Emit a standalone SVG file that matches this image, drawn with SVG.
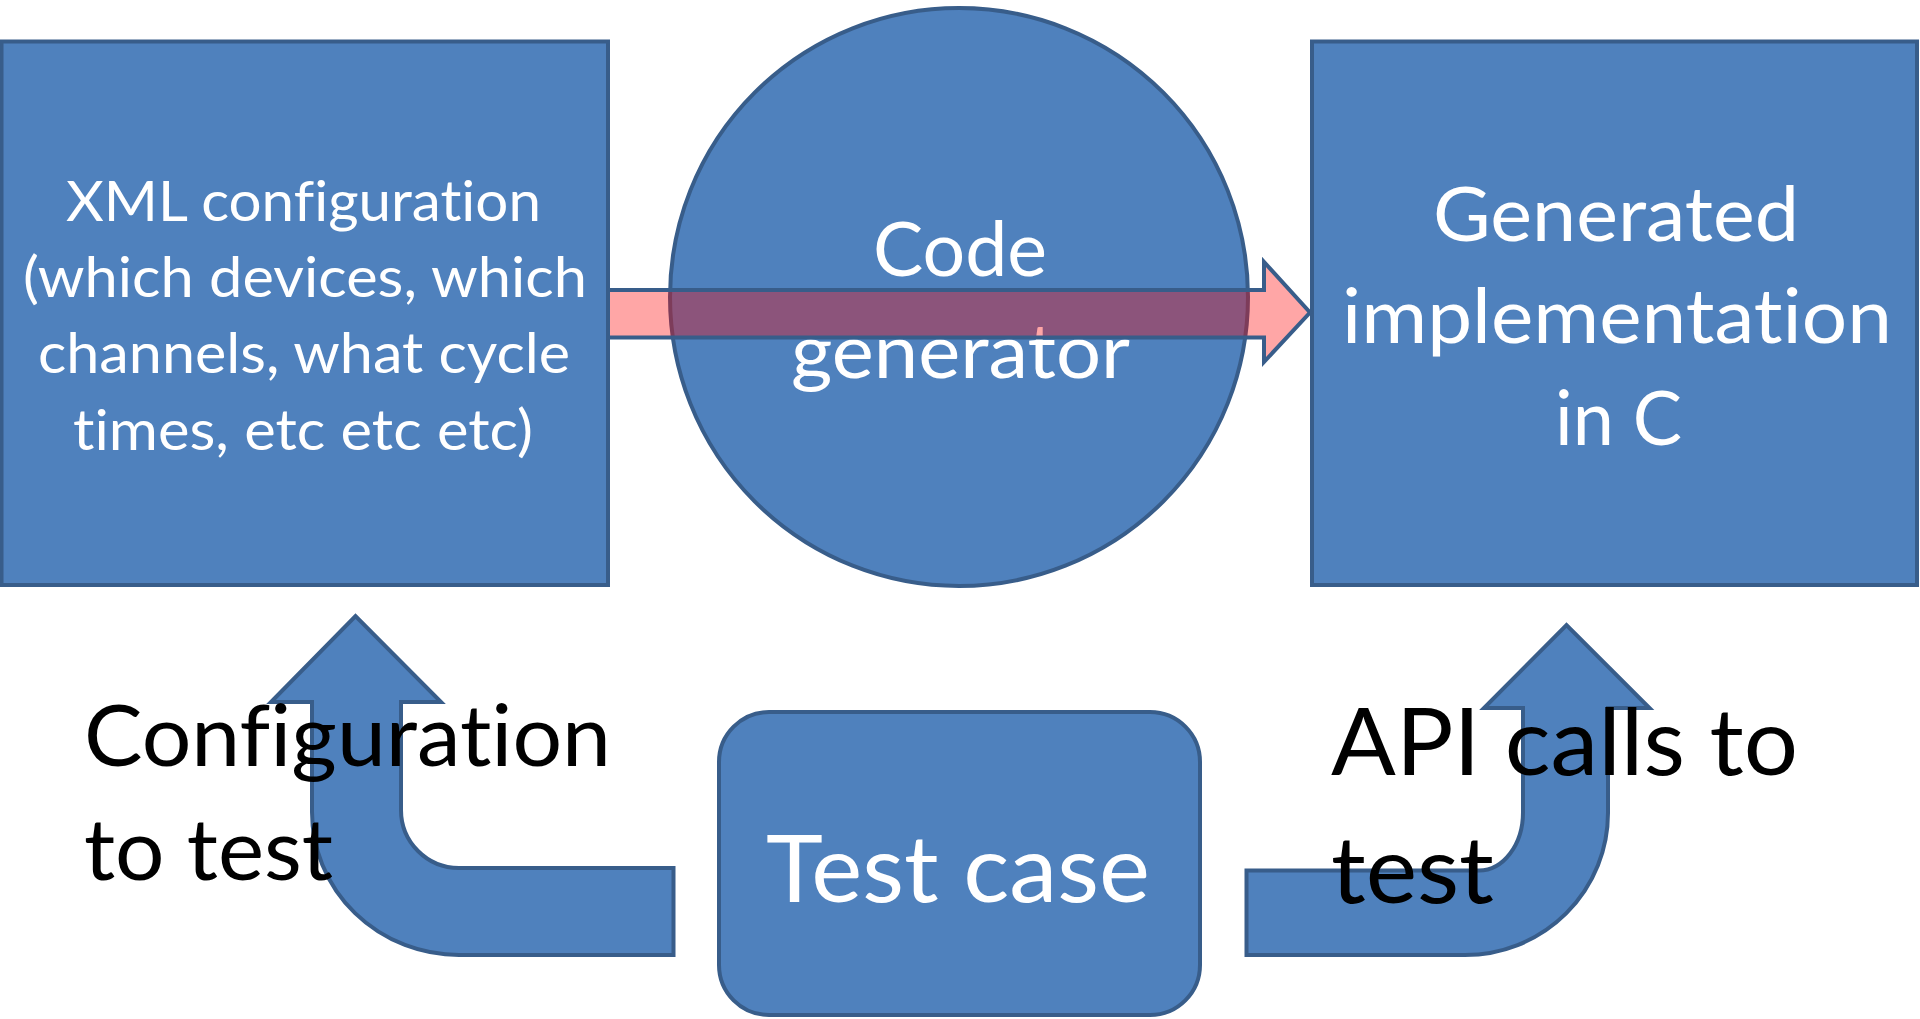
<svg xmlns="http://www.w3.org/2000/svg" width="1920" height="1019" viewBox="0 0 1920 1019">
<style>
.box{fill:#4F81BD;stroke:#385D8A;stroke-width:4;stroke-linejoin:miter}
.arr{fill:#4F81BD;stroke:#385D8A;stroke-width:4;stroke-linejoin:miter}
.flow{fill:#FF0000;fill-opacity:0.35;stroke:#385D8A;stroke-width:4;stroke-linejoin:miter}
.wt,.bk{font-family:Lato,"Open Sans","Liberation Sans",sans-serif;font-variant-ligatures:none;font-feature-settings:"liga" 0,"dlig" 0,"clig" 0}
.wt{fill:#FFFFFF}
.bk{fill:#000000}
</style>
<rect width="1920" height="1019" fill="#FFFFFF"/>
<g id="nodes">
  <g id="xml-config">
    <rect class="box" x="1.5" y="41.5" width="606.5" height="543.5"/>
    <text class="wt" font-size="57" x="66" y="221" textLength="475" lengthAdjust="spacingAndGlyphs">XML configuration</text>
    <text class="wt" font-size="57" x="23" y="297" textLength="564" lengthAdjust="spacingAndGlyphs">(which devices, which</text>
    <text class="wt" font-size="57" x="38" y="373" textLength="532" lengthAdjust="spacingAndGlyphs">channels, what cycle</text>
    <text class="wt" font-size="57" x="73" y="450" textLength="460" lengthAdjust="spacingAndGlyphs">times, etc etc etc)</text>
  </g>
  <g id="code-generator">
    <circle class="box" cx="959" cy="297" r="289"/>
    <text class="wt" font-size="76" x="873" y="276" textLength="174" lengthAdjust="spacingAndGlyphs">Code</text>
    <text class="wt" font-size="76" x="791" y="378" textLength="339" lengthAdjust="spacingAndGlyphs">generator</text>
  </g>
  <g id="generated-impl">
    <rect class="box" x="1312" y="41.5" width="605" height="543.5"/>
    <text class="wt" font-size="76" x="1433" y="240.5" textLength="366" lengthAdjust="spacingAndGlyphs">Generated</text>
    <text class="wt" font-size="76" x="1342" y="343" textLength="550" lengthAdjust="spacingAndGlyphs">implementation</text>
    <text class="wt" font-size="76" x="1555" y="445" textLength="127" lengthAdjust="spacingAndGlyphs">in C</text>
  </g>
  <g id="test-case">
    <rect class="box" x="719" y="712" width="481" height="303" rx="50" ry="50"/>
    <text class="wt" font-size="94" x="766" y="901.5" textLength="384" lengthAdjust="spacingAndGlyphs">Test case</text>
  </g>
</g>
<g id="connectors">
  <path class="flow" d="M608 290 L1264 290 L1264 262 L1310 312.5 L1264 362 L1264 337.5 L608 337.5 Z"/>
  <path class="arr" d="M673.5 868 L459 868 A58 58 0 0 1 401 810 L401 702 L441 702 L355.5 616 L271 702 L312 702 L312 812 A147 143 0 0 0 459 955 L673.5 955 Z"/>
  <path class="arr" d="M1246.5 870.5 L1479 870.5 A44 58 0 0 0 1523 812.5 L1523 708 L1484 708 L1566.5 625 L1649.5 708 L1608 708 L1608 813 A143 142 0 0 1 1465 955 L1246.5 955 Z"/>
</g>
<g id="labels">
  <text class="bk" font-size="85" x="84" y="766" textLength="527" lengthAdjust="spacingAndGlyphs">Configuration</text>
  <text class="bk" font-size="85" x="84" y="880" textLength="249" lengthAdjust="spacingAndGlyphs">to test</text>
  <text class="bk" font-size="94" x="1331" y="775" textLength="467" lengthAdjust="spacingAndGlyphs">API calls to</text>
  <text class="bk" font-size="94" x="1331" y="903" textLength="163" lengthAdjust="spacingAndGlyphs">test</text>
</g>
</svg>
